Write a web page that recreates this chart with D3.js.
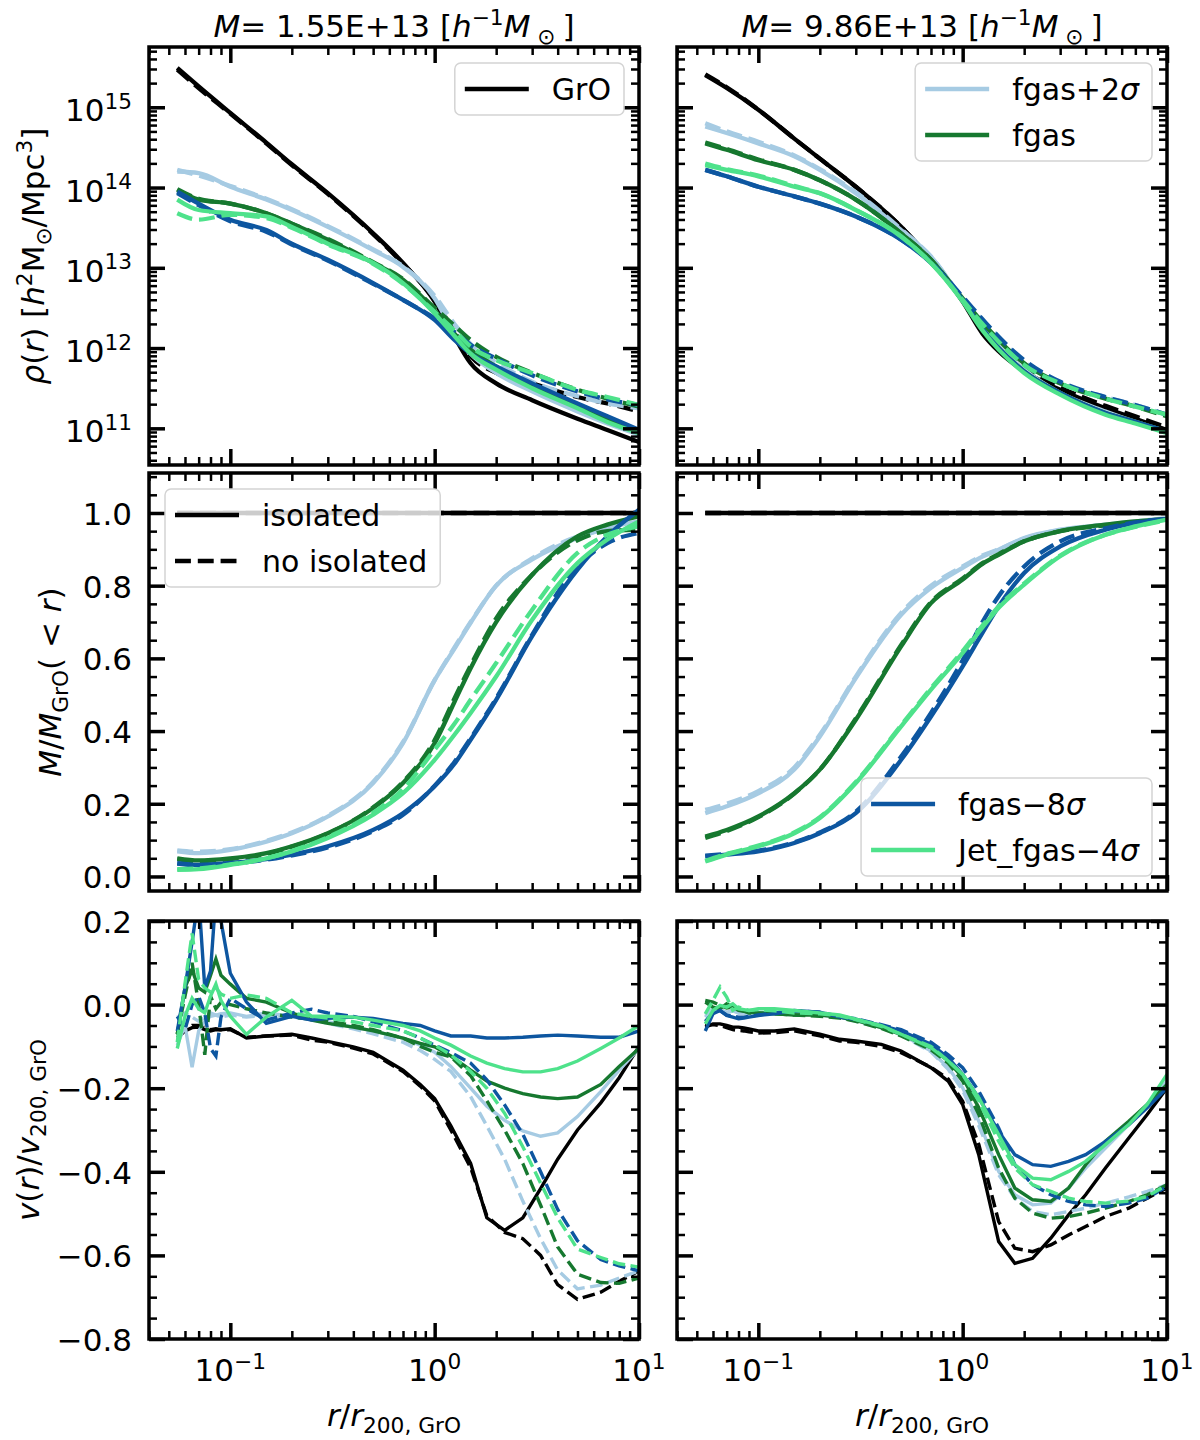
<!DOCTYPE html>
<html>
<head>
<meta charset="utf-8">
<script src="https://cdn.jsdelivr.net/npm/d3@7"></script>
<style>
  body { margin: 0; background: #fff; }
  svg { font-family: "DejaVu Sans", sans-serif; }
</style>
</head>
<body>
<svg id="chart"></svg>
<script>
let rDens = [0.055, 0.07, 0.1, 0.15, 0.2, 0.3, 0.5, 0.7, 1.0, 1.25, 1.5, 2, 3, 5, 7, 10]
let rVel = [0.055, 0.06, 0.065, 0.07, 0.075, 0.08, 0.085, 0.09, 0.1, 0.12, 0.15, 0.2, 0.25, 0.3, 0.4, 0.5,
            0.7, 0.85, 1.0, 1.2, 1.5, 1.8, 2.2, 2.7, 3.3, 4, 5, 6.5, 8, 10]

// density, stored as log10 rho  (iso = isolated, all = no isolated)
let dL_gro_iso = [15.49, 15.26, 14.93, 14.56, 14.29, 13.93, 13.43, 13.06, 12.58, 12.14, 11.81, 11.56, 11.35, 11.12, 10.98, 10.83]
let dL_gro_all = [15.47, 15.24, 14.92, 14.55, 14.28, 13.92, 13.42, 13.05, 12.60, 12.20, 11.90, 11.69, 11.56, 11.39, 11.31, 11.21]
let dL_p2_iso = [14.20, 14.18, 14.01, 13.85, 13.72, 13.51, 13.22, 13.01, 12.62, 12.18, 11.93, 11.69, 11.46, 11.21, 11.06, 10.92]
let dL_p2_all = [14.22, 14.15, 14.02, 13.86, 13.73, 13.52, 13.23, 13.02, 12.65, 12.30, 12.05, 11.82, 11.58, 11.40, 11.31, 11.25]
let dL_fg_iso = [13.97, 13.85, 13.80, 13.68, 13.55, 13.35, 13.06, 12.85, 12.47, 12.18, 11.98, 11.77, 11.52, 11.27, 11.12, 10.94]
let dL_fg_all = [13.98, 13.86, 13.80, 13.68, 13.55, 13.36, 13.07, 12.86, 12.50, 12.28, 12.10, 11.89, 11.69, 11.48, 11.37, 11.27]
let dL_m8_iso = [13.95, 13.80, 13.60, 13.47, 13.30, 13.10, 12.81, 12.60, 12.35, 12.10, 11.93, 11.77, 11.56, 11.31, 11.15, 10.98]
let dL_m8_all = [13.93, 13.78, 13.58, 13.45, 13.29, 13.09, 12.80, 12.60, 12.37, 12.20, 12.04, 11.87, 11.66, 11.46, 11.36, 11.29]
let dL_j4_iso = [13.85, 13.72, 13.68, 13.64, 13.51, 13.30, 13.06, 12.81, 12.43, 12.15, 11.93, 11.73, 11.50, 11.25, 11.08, 10.94]
let dL_j4_all = [13.68, 13.60, 13.66, 13.62, 13.50, 13.29, 13.05, 12.80, 12.45, 12.22, 12.02, 11.85, 11.69, 11.48, 11.39, 11.29]

let dR_gro_iso = [15.40, 15.24, 14.97, 14.61, 14.36, 14.01, 13.51, 13.10, 12.58, 12.18, 11.96, 11.71, 11.48, 11.25, 11.12, 10.98]
let dR_gro_all = [15.41, 15.25, 14.97, 14.61, 14.36, 14.01, 13.51, 13.10, 12.60, 12.22, 12.00, 11.75, 11.51, 11.28, 11.15, 11.01]
let dR_p2_iso = [14.76, 14.68, 14.55, 14.39, 14.22, 13.93, 13.47, 13.14, 12.60, 12.25, 12.02, 11.73, 11.44, 11.21, 11.08, 10.96]
let dR_p2_all = [14.80, 14.70, 14.57, 14.40, 14.23, 13.94, 13.48, 13.14, 12.62, 12.35, 12.14, 11.83, 11.56, 11.39, 11.29, 11.17]
let dR_fg_iso = [14.55, 14.47, 14.34, 14.22, 14.09, 13.85, 13.43, 13.10, 12.60, 12.24, 12.00, 11.71, 11.44, 11.19, 11.08, 10.96]
let dR_fg_all = [14.56, 14.48, 14.35, 14.22, 14.09, 13.85, 13.43, 13.10, 12.62, 12.32, 12.10, 11.81, 11.56, 11.37, 11.27, 11.15]
let dR_m8_iso = [14.22, 14.14, 14.01, 13.89, 13.80, 13.64, 13.35, 13.06, 12.60, 12.24, 12.00, 11.71, 11.44, 11.19, 11.08, 10.96]
let dR_m8_all = [14.22, 14.14, 14.01, 13.89, 13.80, 13.64, 13.35, 13.07, 12.64, 12.36, 12.14, 11.85, 11.58, 11.39, 11.29, 11.17]
let dR_j4_iso = [14.28, 14.22, 14.14, 14.01, 13.93, 13.72, 13.39, 13.06, 12.58, 12.22, 11.98, 11.69, 11.42, 11.17, 11.06, 10.94]
let dR_j4_all = [14.30, 14.23, 14.15, 14.02, 13.93, 13.72, 13.39, 13.06, 12.60, 12.30, 12.08, 11.79, 11.56, 11.37, 11.27, 11.17]

// enclosed mass relative to GrO
let mL_gro_iso = [1, 1, 1, 1, 1, 1, 1, 1, 1, 1, 1, 1, 1, 1, 1, 1]
let mL_gro_all = [1, 1, 1, 1, 1, 1, 1, 1, 1, 1, 1, 1, 1, 1, 1, 1]
let mL_p2_iso = [0.069, 0.064, 0.073, 0.096, 0.119, 0.165, 0.257, 0.367, 0.54, 0.627, 0.698, 0.80, 0.872, 0.931, 0.959, 0.977]
let mL_p2_all = [0.072, 0.068, 0.075, 0.098, 0.121, 0.167, 0.26, 0.37, 0.54, 0.63, 0.70, 0.80, 0.875, 0.935, 0.955, 0.965]
let mL_fg_iso = [0.05, 0.044, 0.05, 0.064, 0.083, 0.119, 0.188, 0.257, 0.367, 0.48, 0.573, 0.70, 0.83, 0.936, 0.968, 0.991]
let mL_fg_all = [0.048, 0.042, 0.048, 0.062, 0.082, 0.118, 0.19, 0.26, 0.375, 0.49, 0.58, 0.71, 0.83, 0.925, 0.95, 0.954]
let mL_m8_iso = [0.037, 0.032, 0.037, 0.048, 0.06, 0.083, 0.128, 0.174, 0.248, 0.31, 0.376, 0.486, 0.661, 0.844, 0.936, 1.009]
let mL_m8_all = [0.035, 0.03, 0.035, 0.046, 0.058, 0.08, 0.125, 0.17, 0.25, 0.315, 0.38, 0.49, 0.665, 0.853, 0.917, 0.945]
let mL_j4_iso = [0.018, 0.02, 0.032, 0.05, 0.069, 0.106, 0.17, 0.229, 0.321, 0.39, 0.45, 0.55, 0.706, 0.862, 0.927, 0.977]
let mL_j4_all = [0.02, 0.022, 0.033, 0.05, 0.07, 0.108, 0.175, 0.24, 0.349, 0.42, 0.486, 0.587, 0.734, 0.89, 0.94, 0.963]

let mR_gro_iso = [1, 1, 1, 1, 1, 1, 1, 1, 1, 1, 1, 1, 1, 1, 1, 1]
let mR_gro_all = [1, 1, 1, 1, 1, 1, 1, 1, 1, 1, 1, 1, 1, 1, 1, 1]
let mR_p2_iso = [0.174, 0.193, 0.229, 0.294, 0.385, 0.546, 0.72, 0.794, 0.849, 0.88, 0.899, 0.931, 0.954, 0.968, 0.977, 0.986]
let mR_p2_all = [0.183, 0.2, 0.235, 0.30, 0.39, 0.55, 0.725, 0.80, 0.853, 0.883, 0.90, 0.93, 0.953, 0.967, 0.975, 0.983]
let mR_fg_iso = [0.11, 0.128, 0.165, 0.229, 0.294, 0.431, 0.633, 0.752, 0.817, 0.86, 0.885, 0.922, 0.95, 0.968, 0.977, 0.983]
let mR_fg_all = [0.106, 0.125, 0.163, 0.228, 0.294, 0.435, 0.637, 0.755, 0.82, 0.862, 0.887, 0.922, 0.95, 0.966, 0.975, 0.981]
let mR_m8_iso = [0.055, 0.06, 0.069, 0.092, 0.119, 0.174, 0.321, 0.44, 0.578, 0.67, 0.743, 0.835, 0.908, 0.954, 0.972, 0.983]
let mR_m8_all = [0.057, 0.062, 0.071, 0.094, 0.121, 0.178, 0.33, 0.45, 0.595, 0.70, 0.771, 0.853, 0.922, 0.958, 0.974, 0.984]
let mR_j4_iso = [0.041, 0.06, 0.083, 0.119, 0.161, 0.257, 0.413, 0.514, 0.615, 0.685, 0.739, 0.803, 0.881, 0.94, 0.963, 0.982]
let mR_j4_all = [0.043, 0.062, 0.085, 0.121, 0.163, 0.26, 0.416, 0.518, 0.62, 0.69, 0.743, 0.806, 0.883, 0.94, 0.962, 0.98]

// radial velocity / v200,GrO
let vL_gro_iso = [-0.08, -0.063, -0.055, -0.054, -0.06, -0.063, -0.06, -0.06, -0.058, -0.08, -0.075, -0.071, -0.08, -0.088, -0.101, -0.114, -0.157, -0.191, -0.225, -0.29, -0.38, -0.51, -0.54, -0.51, -0.44, -0.37, -0.30, -0.235, -0.175, -0.1]
let vL_gro_all = [-0.075, -0.06, -0.05, -0.05, -0.055, -0.06, -0.058, -0.06, -0.06, -0.078, -0.075, -0.073, -0.085, -0.09, -0.104, -0.118, -0.16, -0.195, -0.23, -0.30, -0.39, -0.505, -0.545, -0.56, -0.60, -0.67, -0.705, -0.688, -0.662, -0.637]
let vL_p2_iso = [-0.097, -0.05, -0.15, -0.063, -0.04, -0.028, -0.025, -0.022, -0.02, -0.028, -0.02, -0.028, -0.032, -0.041, -0.054, -0.063, -0.08, -0.097, -0.114, -0.148, -0.2, -0.243, -0.277, -0.302, -0.315, -0.307, -0.268, -0.208, -0.157, -0.105]
let vL_p2_all = [-0.03, -0.02, -0.03, -0.04, -0.03, -0.02, -0.025, -0.03, -0.025, -0.03, -0.025, -0.03, -0.035, -0.045, -0.058, -0.07, -0.09, -0.11, -0.131, -0.16, -0.22, -0.29, -0.37, -0.47, -0.56, -0.635, -0.68, -0.671, -0.654, -0.637]
let vL_fg_iso = [-0.071, 0.04, 0.083, 0.04, 0.03, 0.07, 0.109, 0.07, 0.049, 0.015, 0.006, -0.02, -0.037, -0.045, -0.054, -0.063, -0.08, -0.093, -0.101, -0.123, -0.157, -0.183, -0.2, -0.213, -0.221, -0.225, -0.221, -0.191, -0.148, -0.105]
let vL_fg_all = [-0.07, 0.02, 0.1, 0.0, -0.12, 0.02, -0.01, 0.005, 0.0, -0.01, -0.02, -0.03, -0.035, -0.04, -0.05, -0.06, -0.08, -0.1, -0.114, -0.125, -0.17, -0.23, -0.30, -0.38, -0.48, -0.58, -0.645, -0.665, -0.667, -0.654]
let vL_m8_iso = [-0.063, 0.04, 0.15, 0.26, 0.04, 0.08, 0.26, 0.2, 0.075, 0.006, -0.045, -0.028, -0.037, -0.033, -0.03, -0.033, -0.045, -0.05, -0.063, -0.075, -0.075, -0.08, -0.08, -0.078, -0.075, -0.073, -0.075, -0.078, -0.078, -0.063]
let vL_m8_all = [-0.028, -0.06, 0.0, 0.02, -0.02, -0.105, -0.123, -0.03, 0.015, -0.01, -0.037, -0.02, -0.011, -0.02, -0.028, -0.041, -0.063, -0.08, -0.097, -0.115, -0.14, -0.18, -0.24, -0.31, -0.40, -0.49, -0.565, -0.61, -0.625, -0.637]
let vL_j4_iso = [-0.105, -0.028, 0.015, -0.01, -0.02, 0.02, 0.049, 0.01, -0.028, -0.071, -0.03, 0.01, -0.028, -0.028, -0.03, -0.037, -0.05, -0.063, -0.08, -0.097, -0.123, -0.14, -0.153, -0.161, -0.161, -0.153, -0.135, -0.105, -0.08, -0.05]
let vL_j4_all = [-0.09, 0.05, 0.17, 0.06, 0.04, 0.03, 0.04, 0.025, 0.015, 0.023, 0.015, -0.02, -0.028, -0.032, -0.041, -0.05, -0.063, -0.08, -0.097, -0.12, -0.16, -0.2, -0.26, -0.34, -0.427, -0.51, -0.585, -0.605, -0.62, -0.628]

let vR_gro_iso = [-0.054, -0.046, -0.046, -0.05, -0.054, -0.054, -0.056, -0.058, -0.063, -0.063, -0.058, -0.071, -0.083, -0.087, -0.095, -0.111, -0.151, -0.183, -0.239, -0.36, -0.567, -0.619, -0.607, -0.559, -0.503, -0.455, -0.391, -0.319, -0.263, -0.199]
let vR_gro_all = [-0.05, -0.048, -0.05, -0.055, -0.06, -0.062, -0.063, -0.065, -0.068, -0.067, -0.063, -0.075, -0.087, -0.09, -0.1, -0.115, -0.15, -0.178, -0.231, -0.335, -0.519, -0.583, -0.591, -0.575, -0.551, -0.531, -0.507, -0.487, -0.463, -0.439]
let vR_p2_iso = [-0.03, -0.01, -0.015, -0.02, -0.015, -0.02, -0.02, -0.022, -0.02, -0.02, -0.022, -0.025, -0.03, -0.038, -0.055, -0.071, -0.111, -0.151, -0.199, -0.279, -0.399, -0.455, -0.479, -0.475, -0.439, -0.391, -0.343, -0.287, -0.239, -0.183]
let vR_p2_all = [-0.025, -0.01, -0.012, -0.018, -0.015, -0.02, -0.02, -0.022, -0.02, -0.02, -0.022, -0.025, -0.03, -0.04, -0.056, -0.073, -0.113, -0.155, -0.205, -0.29, -0.407, -0.463, -0.495, -0.503, -0.495, -0.487, -0.475, -0.46, -0.447, -0.431]
let vR_fg_iso = [0.006, -0.006, -0.01, 0.002, -0.006, -0.014, -0.016, -0.018, -0.02, -0.022, -0.025, -0.025, -0.03, -0.038, -0.055, -0.071, -0.103, -0.135, -0.175, -0.247, -0.359, -0.439, -0.467, -0.471, -0.439, -0.383, -0.327, -0.279, -0.239, -0.191]
let vR_fg_all = [0.01, 0.006, -0.002, -0.008, -0.006, -0.012, -0.015, -0.02, -0.02, -0.022, -0.025, -0.028, -0.032, -0.04, -0.057, -0.075, -0.108, -0.14, -0.183, -0.263, -0.391, -0.463, -0.499, -0.511, -0.507, -0.499, -0.487, -0.471, -0.455, -0.431]
let vR_m8_iso = [-0.063, -0.022, -0.014, -0.026, -0.03, -0.034, -0.032, -0.03, -0.026, -0.022, -0.014, -0.018, -0.03, -0.035, -0.05, -0.063, -0.095, -0.127, -0.167, -0.223, -0.303, -0.359, -0.383, -0.387, -0.375, -0.359, -0.327, -0.287, -0.247, -0.199]
let vR_m8_all = [-0.04, -0.02, -0.015, -0.025, -0.028, -0.03, -0.03, -0.028, -0.025, -0.02, -0.015, -0.018, -0.028, -0.034, -0.048, -0.06, -0.09, -0.12, -0.151, -0.207, -0.295, -0.383, -0.431, -0.455, -0.471, -0.479, -0.483, -0.475, -0.463, -0.435]
let vR_j4_iso = [-0.046, -0.014, -0.002, -0.006, 0.002, -0.01, -0.012, -0.014, -0.01, -0.01, -0.014, -0.02, -0.025, -0.035, -0.05, -0.071, -0.103, -0.135, -0.167, -0.223, -0.311, -0.383, -0.415, -0.419, -0.399, -0.375, -0.335, -0.287, -0.239, -0.167]
let vR_j4_all = [-0.022, 0.01, 0.042, 0.018, -0.014, -0.006, -0.01, -0.014, -0.012, -0.015, -0.02, -0.022, -0.027, -0.036, -0.052, -0.071, -0.1, -0.135, -0.167, -0.231, -0.327, -0.391, -0.431, -0.447, -0.463, -0.471, -0.475, -0.47, -0.459, -0.431]

let haloMass = ["1.55E+13", "9.86E+13"]
let densTicks = [1e11, 1e12, 1e13, 1e14, 1e15]
let massTicks = [0, 0.2, 0.4, 0.6, 0.8, 1.0]
let velTicks = [-0.8, -0.6, -0.4, -0.2, 0, 0.2]
let xTicks = [0.1, 1, 10]

let modelColor = { gro: "#000000", p2: "#a6cbe3", fg: "#16782f", m8: "#0d56a0", j4: "#4ee28b" }

// ---- layout ----
let width = 1200
let height = 1440
let cols = [{ x0: 149, x1: 639 }, { x0: 677, x1: 1167 }]
let rows = [{ y0: 47, y1: 465 }, { y0: 473, y1: 891 }, { y0: 921, y1: 1339 }]
let tickFont = 31
let legendFont = 30

let svg = d3.select("#chart").attr("width", width).attr("height", height)

// mathtext-ish text: parts = [{t, i, sup, sub}]
let rich = (text, parts, size) => {
  let shift = 0
  parts.forEach(p => {
    let target = p.sup ? -0.4 * size : p.sub ? 0.24 * size : 0
    let ts = text.append("tspan").text(p.t)
    if (target !== shift) ts.attr("dy", target - shift)
    if (p.sup || p.sub) ts.attr("font-size", size * 0.7)
    if (p.i) ts.attr("font-style", "italic")
    shift = target
  })
  return text
}

let logMinors = (lo, hi) => {
  let out = []
  for (let d = Math.floor(Math.log10(lo)); d <= Math.ceil(Math.log10(hi)); d++) {
    for (let k = 2; k <= 9; k++) {
      let v = k * Math.pow(10, d)
      if (v >= lo * 0.999 && v <= hi * 1.001) out.push(v)
    }
  }
  return out
}

let linMinors = (lo, hi, step) => d3.range(Math.ceil(lo / step), Math.floor(hi / step) + 1).map(k => +(k * step).toFixed(3))

let panels = [
  { col: 0, row: 0, kind: "dens", r: rDens, lines: [[dL_gro_iso, dL_gro_all], [dL_p2_iso, dL_p2_all], [dL_fg_iso, dL_fg_all], [dL_m8_iso, dL_m8_all], [dL_j4_iso, dL_j4_all]] },
  { col: 1, row: 0, kind: "dens", r: rDens, lines: [[dR_gro_iso, dR_gro_all], [dR_p2_iso, dR_p2_all], [dR_fg_iso, dR_fg_all], [dR_m8_iso, dR_m8_all], [dR_j4_iso, dR_j4_all]] },
  { col: 0, row: 1, kind: "mass", r: rDens, lines: [[mL_gro_iso, mL_gro_all], [mL_p2_iso, mL_p2_all], [mL_fg_iso, mL_fg_all], [mL_m8_iso, mL_m8_all], [mL_j4_iso, mL_j4_all]] },
  { col: 1, row: 1, kind: "mass", r: rDens, lines: [[mR_gro_iso, mR_gro_all], [mR_p2_iso, mR_p2_all], [mR_fg_iso, mR_fg_all], [mR_m8_iso, mR_m8_all], [mR_j4_iso, mR_j4_all]] },
  { col: 0, row: 2, kind: "vel", r: rVel, lines: [[vL_gro_iso, vL_gro_all], [vL_p2_iso, vL_p2_all], [vL_fg_iso, vL_fg_all], [vL_m8_iso, vL_m8_all], [vL_j4_iso, vL_j4_all]] },
  { col: 1, row: 2, kind: "vel", r: rVel, lines: [[vR_gro_iso, vR_gro_all], [vR_p2_iso, vR_p2_all], [vR_fg_iso, vR_fg_all], [vR_m8_iso, vR_m8_all], [vR_j4_iso, vR_j4_all]] }
]
let modelKeys = ["gro", "p2", "fg", "m8", "j4"]

let drawPanel = (p, idx) => {
  let box = { x0: cols[p.col].x0, x1: cols[p.col].x1, y0: rows[p.row].y0, y1: rows[p.row].y1 }
  let x = d3.scaleLog().domain([0.04, 10]).range([box.x0, box.x1])
  let y
  if (p.kind === "dens") y = d3.scaleLog().domain([Math.pow(10, 10.543), Math.pow(10, 15.751)]).range([box.y1, box.y0])
  if (p.kind === "mass") y = d3.scaleLinear().domain([-0.04, 1.11]).range([box.y1, box.y0])
  if (p.kind === "vel") y = d3.scaleLinear().domain([-0.8, 0.2]).range([box.y1, box.y0])
  let yVal = d => p.kind === "dens" ? Math.pow(10, d) : d

  svg.append("clipPath").attr("id", "clip" + idx)
     .append("rect")
     .attr("x", box.x0).attr("y", box.y0)
     .attr("width", box.x1 - box.x0).attr("height", box.y1 - box.y0)

  let lw = p.kind === "vel" ? 3.4 : 4.3
  let line = d3.line()
               .x((d, i) => x(p.r[i]))
               .y(d => y(yVal(d)))
               .curve(p.kind === "vel" ? d3.curveLinear : d3.curveMonotoneX)

  let g = svg.append("g").attr("clip-path", "url(#clip" + idx + ")")
  p.lines.forEach((pair, m) => {
    pair.forEach((vals, s) => {
      g.append("path")
       .datum(vals)
       .attr("d", line)
       .attr("fill", "none")
       .attr("stroke", modelColor[modelKeys[m]])
       .attr("stroke-width", lw)
       .attr("stroke-dasharray", s === 1 ? (lw * 3.7) + "," + (lw * 1.6) : null)
    })
  })

  // ticks, all pointing inward, on all four sides
  let yMajor, yMinor
  if (p.kind === "dens") { yMajor = densTicks; yMinor = logMinors(y.domain()[0], y.domain()[1]) }
  if (p.kind === "mass") { yMajor = massTicks; yMinor = linMinors(-0.04, 1.11, 0.05).filter(v => !massTicks.includes(v)) }
  if (p.kind === "vel") { yMajor = velTicks; yMinor = linMinors(-0.8, 0.2, 0.05).filter(v => !velTicks.map(t => +t.toFixed(2)).includes(v)) }
  let xMinor = logMinors(0.04, 10)

  let axes = svg.append("g")
  let addAxis = (axis, tx, ty, vals, size, sw) => {
    axes.append("g")
        .attr("transform", "translate(" + tx + "," + ty + ")")
        .call(axis.tickValues(vals).tickSize(-size).tickFormat(""))
        .call(a => a.select(".domain").remove())
        .call(a => a.selectAll("line").attr("stroke", "#000").attr("stroke-width", sw))
  }
  addAxis(d3.axisBottom(x), 0, box.y1, xTicks, 16, 3.5)
  addAxis(d3.axisBottom(x), 0, box.y1, xMinor, 8, 2.5)
  addAxis(d3.axisTop(x), 0, box.y0, xTicks, 16, 3.5)
  addAxis(d3.axisTop(x), 0, box.y0, xMinor, 8, 2.5)
  addAxis(d3.axisLeft(y), box.x0, 0, yMajor, 16, 3.5)
  addAxis(d3.axisLeft(y), box.x0, 0, yMinor, 8, 2.5)
  addAxis(d3.axisRight(y), box.x1, 0, yMajor, 16, 3.5)
  addAxis(d3.axisRight(y), box.x1, 0, yMinor, 8, 2.5)

  svg.append("rect")
     .attr("x", box.x0).attr("y", box.y0)
     .attr("width", box.x1 - box.x0).attr("height", box.y1 - box.y0)
     .attr("fill", "none").attr("stroke", "#000").attr("stroke-width", 3.5)

  // tick labels
  if (p.col === 0) {
    yMajor.forEach(v => {
      let t = svg.append("text")
                 .attr("x", box.x0 - 17)
                 .attr("text-anchor", "end")
                 .attr("font-size", tickFont)
      if (p.kind === "dens") {
        t.attr("y", y(v) + 14)
        rich(t, [{ t: "10" }, { t: String(Math.round(Math.log10(v))), sup: 1 }], tickFont)
      } else {
        t.attr("y", y(v) + 12).text(d3.format(".1f")(v).replace("-", "\u2212"))
      }
    })
  }
  if (p.row === 2) {
    xTicks.forEach(v => {
      let t = svg.append("text")
                 .attr("x", x(v))
                 .attr("y", box.y1 + 42)
                 .attr("text-anchor", "middle")
                 .attr("font-size", tickFont)
      let e = Math.round(Math.log10(v))
      rich(t, [{ t: "10" }, { t: String(e).replace("-", "\u2212"), sup: 1 }], tickFont)
    })
    let xl = svg.append("text")
                .attr("x", (box.x0 + box.x1) / 2)
                .attr("y", 1426)
                .attr("text-anchor", "middle")
                .attr("font-size", tickFont)
    rich(xl, [{ t: "r", i: 1 }, { t: "/" }, { t: "r", i: 1 }, { t: "200, GrO", sub: 1 }], tickFont)
  }
  if (p.row === 0) {
    let title = svg.append("text")
                   .attr("x", (box.x0 + box.x1) / 2)
                   .attr("y", 37)
                   .attr("text-anchor", "middle")
                   .attr("font-size", tickFont)
    rich(title, [{ t: "M", i: 1 }, { t: "= " + haloMass[p.col] + " [" }, { t: "h", i: 1 }, { t: "\u22121", sup: 1 },
                 { t: "M", i: 1 }, { t: " \u2299 ", sub: 1 }, { t: "]" }], tickFont)
  }
  return box
}

let drawLegend = (box, items, corner) => {
  let rowH = 46
  let boxH = 6 + rowH * items.length
  let g = svg.append("g")
  let frame = g.append("rect")
  let texts = items.map((it, i) => {
    let t = g.append("text").attr("font-size", legendFont)
    rich(t, it.label, legendFont)
    return t
  })
  let textW = d3.max(texts, t => t.node().getComputedTextLength())
  let boxW = 10 + 64 + 23 + textW + 13
  let bx = corner.includes("r") ? box.x1 - 15 - boxW : box.x0 + 16
  let by = corner.includes("u") ? box.y0 + 16 : box.y1 - 15 - boxH
  frame.attr("x", bx).attr("y", by).attr("width", boxW).attr("height", boxH)
       .attr("rx", 6)
       .attr("fill", "#fff").attr("fill-opacity", 0.8)
       .attr("stroke", "#d4d4d4").attr("stroke-width", 1.5)
  items.forEach((it, i) => {
    let cy = by + 26 + rowH * i
    g.append("line")
     .attr("x1", bx + 10).attr("x2", bx + 74)
     .attr("y1", cy).attr("y2", cy)
     .attr("stroke", it.color).attr("stroke-width", 4.3)
     .attr("stroke-dasharray", it.dashed ? "15.9,6.9" : null)
    texts[i].attr("x", bx + 97).attr("y", cy + 11)
  })
}

let boxes = panels.map(drawPanel)

let sigma = { t: "\u03c3", i: 1 }
drawLegend(boxes[0], [{ label: [{ t: "GrO" }], color: modelColor.gro }], "ur")
drawLegend(boxes[1], [{ label: [{ t: "fgas+2" }, sigma], color: modelColor.p2 },
                      { label: [{ t: "fgas" }], color: modelColor.fg }], "ur")
drawLegend(boxes[2], [{ label: [{ t: "isolated" }], color: "#000" },
                      { label: [{ t: "no isolated" }], color: "#000", dashed: true }], "ul")
drawLegend(boxes[3], [{ label: [{ t: "fgas\u22128" }, sigma], color: modelColor.m8 },
                      { label: [{ t: "Jet_fgas\u22124" }, sigma], color: modelColor.j4 }], "lr")

// y axis labels (rotated)
let yLabel = (cx, cy, parts) => {
  let t = svg.append("text")
             .attr("transform", "translate(" + cx + "," + cy + ") rotate(-90)")
             .attr("text-anchor", "middle")
             .attr("font-size", tickFont)
  rich(t, parts, tickFont)
}
yLabel(44, (rows[0].y0 + rows[0].y1) / 2, [{ t: "\u03c1", i: 1 }, { t: "(" }, { t: "r", i: 1 }, { t: ") [" }, { t: "h", i: 1 },
  { t: "2", sup: 1 }, { t: "M" }, { t: "\u2299", sub: 1 }, { t: "/Mpc" }, { t: "3", sup: 1 }, { t: "]" }])
yLabel(61, (rows[1].y0 + rows[1].y1) / 2, [{ t: "M", i: 1 }, { t: "/" }, { t: "M", i: 1 }, { t: "GrO", sub: 1 },
  { t: "( < " }, { t: "r", i: 1 }, { t: ")" }])
yLabel(39, (rows[2].y0 + rows[2].y1) / 2, [{ t: "v", i: 1 }, { t: "(" }, { t: "r", i: 1 }, { t: ")/" }, { t: "v", i: 1 },
  { t: "200, GrO", sub: 1 }])
</script>
</body>
</html>
